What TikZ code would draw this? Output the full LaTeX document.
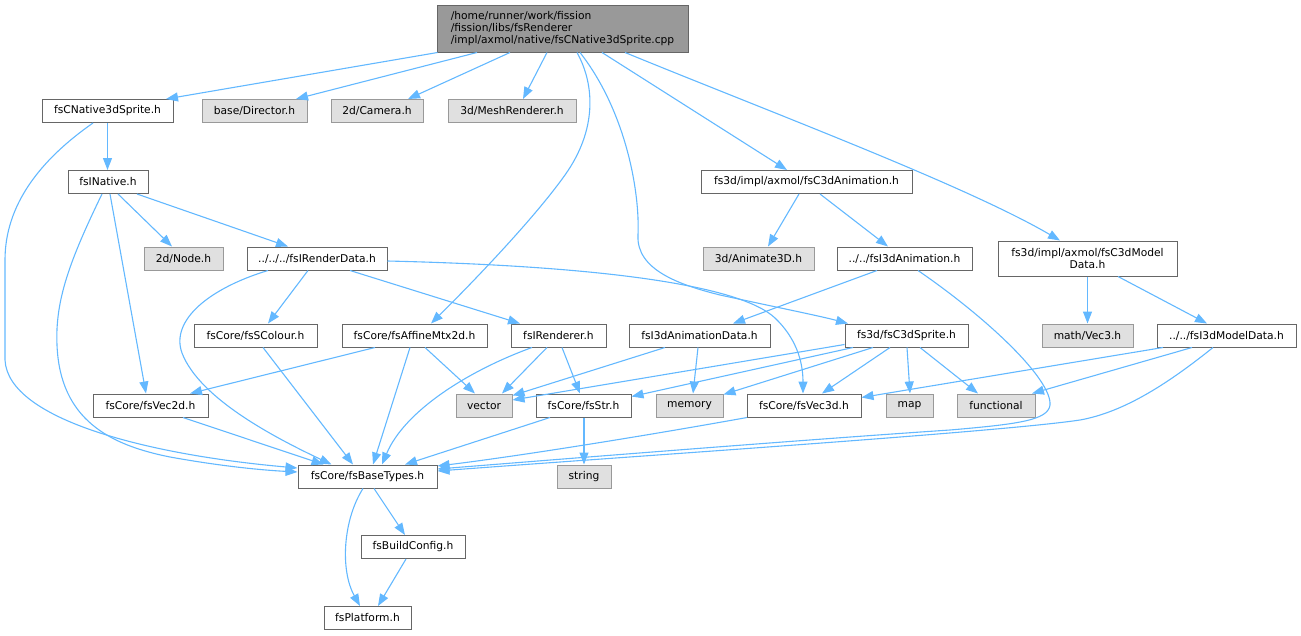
\documentclass[tikz,border=0pt]{standalone}
\usepackage{fontspec}
\setmainfont{DejaVu Sans}
\usetikzlibrary{arrows.meta}
\definecolor{edgec}{HTML}{63B8FF}
\definecolor{bordc}{HTML}{666666}
\definecolor{gbord}{HTML}{999999}
\definecolor{gfill}{HTML}{E0E0E0}
\definecolor{rootfill}{HTML}{999999}
\tikzset{
  file/.style={draw=bordc, fill=white, line width=1pt, inner sep=0pt, minimum height=23pt,
    font=\fontsize{10.7}{12}\selectfont, text=black},
  sys/.style={file, draw=gbord, fill=gfill},
  rootnode/.style={file, fill=rootfill, minimum height=47pt, align=left},
  edge/.style={draw=edgec, line width=1.1pt, -{Triangle[length=12pt,width=9pt]}},
}
\begin{document}
\begin{tikzpicture}[x=1pt,y=-1pt]
\useasboundingbox (0,0) rectangle (1301,635);
% nodes
\node[rootnode, minimum width=251pt] (root) at (562.5,28.5) {/home/runner/work/fission\\/fission/libs/fsRenderer\\/impl/axmol/native/fsCNative3dSprite.cpp};
\node[file, minimum width=131pt] (cn3s) at (107.5,111) {fsCNative3dSprite.h};
\node[sys, minimum width=105pt] (director) at (254.5,111) {base/Director.h};
\node[sys, minimum width=92pt] (camera) at (377,111) {2d/Camera.h};
\node[sys, minimum width=128pt] (mesh) at (512,111) {3d/MeshRenderer.h};
\node[file, minimum width=80pt] (inative) at (108,182) {fsINative.h};
\node[file, minimum width=211pt] (c3danim) at (806.5,182) {fs3d/impl/axmol/fsC3dAnimation.h};
\node[sys, minimum width=79pt] (node2d) at (183.5,258.5) {2d/Node.h};
\node[file, minimum width=140pt] (irender) at (317,258.5) {../../../fsIRenderData.h};
\node[sys, minimum width=111pt] (animate) at (758.5,258.5) {3d/Animate3D.h};
\node[file, minimum width=135pt] (i3danim) at (904.5,258.5) {../../fsI3dAnimation.h};
\node[file, minimum width=179pt, minimum height=35pt, align=center] (c3dmodel) at (1087.5,258.5) {fs3d/impl/axmol/fsC3dModel\\Data.h};
\node[file, minimum width=123pt] (scolour) at (255.5,335.5) {fsCore/fsSColour.h};
\node[file, minimum width=145pt] (affine) at (414.5,335.5) {fsCore/fsAffineMtx2d.h};
\node[file, minimum width=95pt] (irenderer) at (558.5,335.5) {fsIRenderer.h};
\node[file, minimum width=141pt] (i3danimdata) at (699.5,335.5) {fsI3dAnimationData.h};
\node[file, minimum width=123pt] (c3dsprite) at (906.5,335.5) {fs3d/fsC3dSprite.h};
\node[sys, minimum width=91pt] (vec3) at (1087.5,335.5) {math/Vec3.h};
\node[file, minimum width=139pt] (i3dmodel) at (1226.5,335.5) {../../fsI3dModelData.h};
\node[file, minimum width=115pt] (vec2d) at (150.5,405.5) {fsCore/fsVec2d.h};
\node[sys, minimum width=56pt] (vector) at (484,405.5) {vector};
\node[file, minimum width=95pt] (fsstr) at (583.5,405.5) {fsCore/fsStr.h};
\node[sys, minimum width=67pt] (memory) at (689.5,405.5) {memory};
\node[file, minimum width=114pt] (vec3d) at (804,405.5) {fsCore/fsVec3d.h};
\node[sys, minimum width=47pt] (map) at (909.5,405.5) {map};
\node[sys, minimum width=78pt] (functional) at (996,405.5) {functional};
\node[file, minimum width=139pt] (base) at (367.5,476.5) {fsCore/fsBaseTypes.h};
\node[sys, minimum width=54pt] (string) at (584,476.5) {string};
\node[file, minimum width=104pt] (build) at (413,547) {fsBuildConfig.h};
\node[file, minimum width=87pt] (platform) at (367.5,618) {fsPlatform.h};
% edges from root
\draw[edge] ([xshift=-125pt]root.south) -- ([xshift=58.5pt]cn3s.north);
\draw[edge] ([xshift=-85.5pt]root.south) -- ([xshift=41.5pt]director.north);
\draw[edge] ([xshift=-52.5pt]root.south) -- ([xshift=31pt]camera.north);
\draw[edge] ([xshift=-15.5pt]root.south) -- ([xshift=11pt]mesh.north);
\draw[edge] ([xshift=14.5pt]root.south) .. controls (595,85) and (597,130) .. (565,175) .. controls (533,220) and (470,285) .. ([xshift=16.5pt]affine.north);
\draw[edge] ([xshift=17.5pt]root.south) .. controls (625,110) and (640,190) .. (638,235) .. controls (636,270) and (680,285) .. (720,295) .. controls (780,308) and (820,316) .. ([xshift=-58.5pt]c3dsprite.north);
\draw[edge] ([xshift=39.5pt]root.south) -- ([xshift=-19.5pt]c3danim.north);
\draw[edge] ([xshift=62.5pt]root.south) .. controls (770,112) and (965,185) .. ([xshift=-27.5pt]c3dmodel.north);
% left part
\draw[edge] (cn3s.south) -- (cn3s.south |- inative.north);
\draw[edge] ([xshift=-14.5pt]cn3s.south) .. controls (40,160) and (5,205) .. (5,260) -- (5,360) .. controls (8,420) and (150,455) .. ([yshift=8.5pt]base.west);
\draw[edge] ([xshift=-6pt]inative.south) .. controls (70,260) and (55,300) .. (57,345) .. controls (60,420) and (110,445) .. (170,457) .. controls (220,466) and (260,470) .. ([yshift=4.5pt]base.west);
\draw[edge] ([xshift=10pt]inative.south) -- ([xshift=-11.5pt]node2d.north);
\draw[edge] ([xshift=29pt]inative.south) -- ([xshift=-29pt]irender.north);
\draw[edge] ([xshift=2pt]inative.south) -- ([xshift=-4.5pt]vec2d.north);
\draw[edge] ([xshift=-9pt]irender.south) -- ([xshift=12.5pt]scolour.north);
\draw[edge] ([xshift=-49pt]irender.south) .. controls (210,288) and (170,320) .. (182,353) .. controls (200,400) and (280,440) .. ([xshift=-36pt]base.north);
\draw[edge] ([xshift=33pt]irender.south) -- ([xshift=-38.5pt]irenderer.north);
\draw[edge] ([yshift=-2.5pt]irender.east) .. controls (600,266) and (740,285) .. (775,318) .. controls (795,337) and (803,360) .. ([xshift=-1pt]vec3d.north);
\draw[edge] ([xshift=7.5pt]scolour.south) -- ([xshift=-14.5pt]base.north);
\draw[edge] ([xshift=-39.5pt]affine.south) -- ([xshift=39.5pt]vec2d.north);
\draw[edge] ([xshift=-4.5pt]affine.south) -- ([xshift=5.5pt]base.north);
\draw[edge] ([xshift=10.5pt]affine.south) -- ([xshift=-9pt]vector.north);
\draw[edge] ([xshift=-11.5pt]irenderer.south) -- ([xshift=18pt]vector.north);
\draw[edge] ([xshift=-26.5pt]irenderer.south) .. controls (470,370) and (405,410) .. ([xshift=14.5pt]base.north);
\draw[edge] ([xshift=3.5pt]irenderer.south) -- ([xshift=-3.5pt]fsstr.north);
\draw[edge] ([xshift=32.5pt]vec2d.south) -- ([xshift=-44pt]base.north);
\draw[edge] ([xshift=-33.5pt]fsstr.south) -- ([xshift=37.5pt]base.north);
\draw[edge] ([xshift=0.5pt]fsstr.south) -- (string.north);
\draw[edge] ([xshift=6.5pt]base.south) -- ([xshift=-8pt]build.north);
\draw[edge] ([xshift=-4.5pt]base.south) .. controls (343,520) and (340,570) .. ([xshift=-7.5pt]platform.north);
\draw[edge] ([xshift=-7pt]build.south) -- ([xshift=10.5pt]platform.north);
% right part
\draw[edge] ([xshift=-7.5pt]c3danim.south) -- ([xshift=9.5pt]animate.north);
\draw[edge] ([xshift=13.5pt]c3danim.south) -- ([xshift=-16.5pt]i3danim.north);
\draw[edge] ([xshift=-27.5pt]i3danim.south) -- ([xshift=33.5pt]i3danimdata.north);
\draw[edge] ([xshift=13.5pt]i3danim.south) .. controls (990,320) and (1052,380) .. (1050,405) .. controls (1048,420) and (1020,424) .. (950,430) .. controls (800,440) and (550,460) .. ([yshift=7.5pt]base.east);
\draw[edge] (c3dmodel.south) -- (vec3.north);
\draw[edge] ([xshift=30.5pt]c3dmodel.south) -- ([xshift=-19.5pt]i3dmodel.north);
\draw[edge] ([xshift=-63.5pt]i3dmodel.south) -- ([yshift=-4pt]vec3d.north east);
\draw[edge] ([xshift=-34.5pt]i3dmodel.south) -- ([xshift=36pt]functional.north);
\draw[edge] ([xshift=-13.5pt]i3dmodel.south) .. controls (1170,382) and (1125,412) .. (1080,420) .. controls (1000,432) and (650,455) .. ([yshift=5.5pt]base.east);
\draw[edge] ([xshift=-34.5pt]i3danimdata.south) -- ([yshift=-2pt]vector.north east);
\draw[edge] ([xshift=-1.5pt]i3danimdata.south) -- ([xshift=3.5pt]memory.north);
\draw[edge] ([yshift=3pt]c3dsprite.south west) -- ([yshift=5.5pt]vector.east);
\draw[edge] ([xshift=-53.5pt]c3dsprite.south) -- ([yshift=-3pt]fsstr.north east);
\draw[edge] ([xshift=-33.5pt]c3dsprite.south) -- ([yshift=-1pt]memory.north east);
\draw[edge] ([xshift=-16.5pt]c3dsprite.south) -- ([xshift=18pt]vec3d.north);
\draw[edge] ([xshift=0.5pt]c3dsprite.south) -- ([xshift=0.5pt]map.north);
\draw[edge] ([xshift=13.5pt]c3dsprite.south) -- ([xshift=-18pt]functional.north);
\draw[edge] ([xshift=-57pt]vec3d.south) .. controls (650,435) and (520,456) .. ([yshift=10.5pt]base.east);
\end{tikzpicture}
\end{document}
